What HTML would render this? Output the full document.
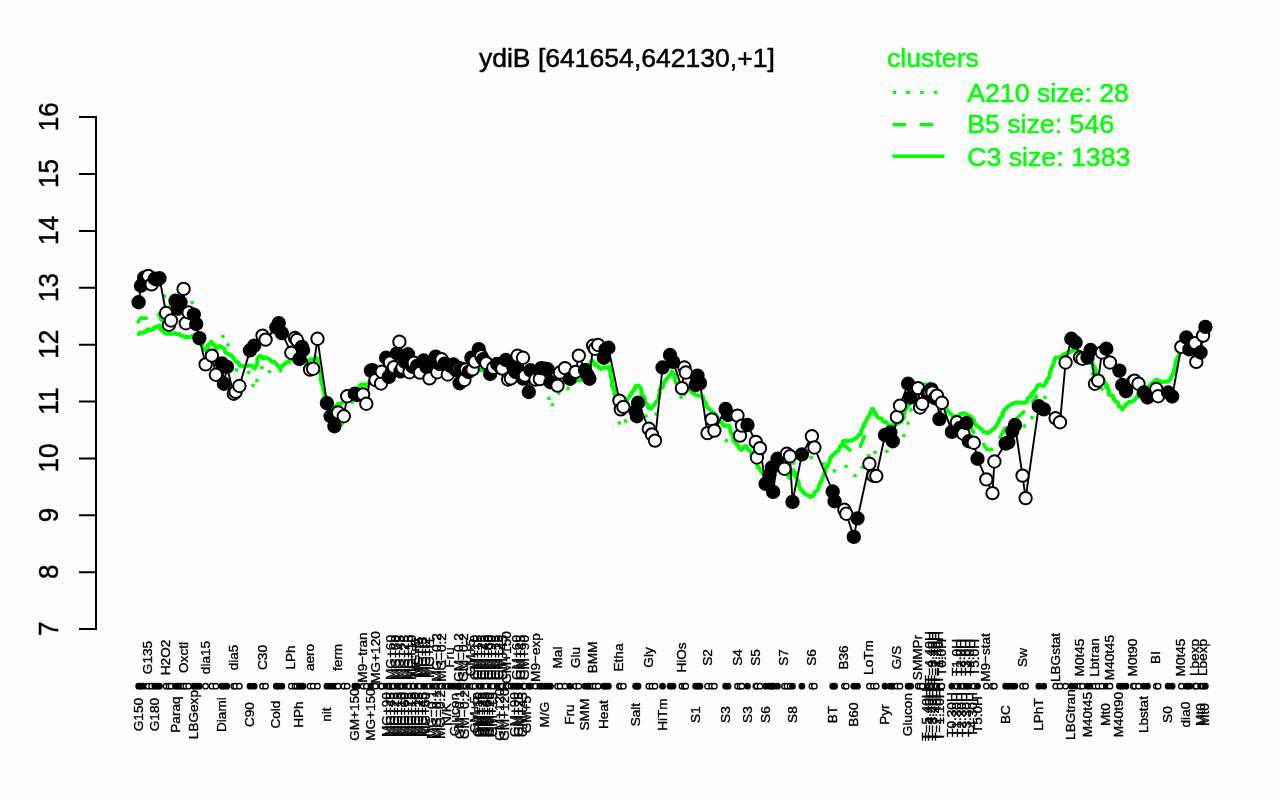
<!DOCTYPE html>
<html><head><meta charset="utf-8"><title>ydiB</title>
<style>html,body{margin:0;padding:0;background:#fdfdfd;}body{width:1280px;height:800px;overflow:hidden;font-family:"Liberation Sans",sans-serif;}</style></head>
<body>
<svg width="1280" height="800" viewBox="0 0 1280 800" style="display:block;will-change:transform;font-family:'Liberation Sans',sans-serif">
<rect width="1280" height="800" fill="#fdfdfd"/>
<text x="626.9" y="66.6" font-size="26.55" text-anchor="middle" fill="#000" stroke="#000" stroke-width="0.5">ydiB [641654,642130,+1]</text>
<g fill="#00ff00" font-size="26.7" stroke="#00ff00" stroke-width="0.5">
<text x="887" y="66.7">clusters</text>
<text x="967.2" y="101.6">A210 size: 28</text>
<text x="967.2" y="133.4">B5 size: 546</text>
<text x="967.2" y="166">C3 size: 1383</text>
</g>
<g stroke="#00ff00" stroke-width="3.4" fill="none">
<path d="M892.8 92.4H938" stroke-dasharray="3.4 10.3" stroke-width="3.3"/>
<path d="M892.5 124.6H940" stroke-dasharray="13.6 13.6"/>
<path d="M892.5 156.3H944.6"/>
</g>
<path d="M96 116.1V630.1M79 117.1H97M79 174H97M79 230.9H97M79 287.8H97M79 344.7H97M79 401.5H97M79 458.4H97M79 515.3H97M79 572.2H97M79 629.1H97" stroke="#000" stroke-width="2" fill="none"/>
<g font-size="26.6" text-anchor="middle" fill="#000" stroke="#000" stroke-width="0.45">
<text transform="translate(58.4 116.7) rotate(-90) scale(0.98 1.065)">16</text>
<text transform="translate(58.4 173.6) rotate(-90) scale(0.98 1.065)">15</text>
<text transform="translate(58.4 230.5) rotate(-90) scale(0.98 1.065)">14</text>
<text transform="translate(58.4 287.4) rotate(-90) scale(0.98 1.065)">13</text>
<text transform="translate(58.4 344.3) rotate(-90) scale(0.98 1.065)">12</text>
<text transform="translate(58.4 401.1) rotate(-90) scale(0.98 1.065)">11</text>
<text transform="translate(58.4 458) rotate(-90) scale(0.98 1.065)">10</text>
<text transform="translate(58.4 514.9) rotate(-90) scale(0.98 1.065)">9</text>
<text transform="translate(58.4 571.8) rotate(-90) scale(0.98 1.065)">8</text>
<text transform="translate(58.4 628.7) rotate(-90) scale(0.98 1.065)">7</text>
</g>
<g stroke="#00ff00" fill="none" stroke-linejoin="round" stroke-linecap="round">
<polyline stroke-width="4.1" points="138.9,333.9 140.3,332.8 143,332.5 145.5,331.6 147.5,329.2 150.4,330 152.9,329.5 154.4,327.3 157.9,326.8 159.6,325.4 160.6,329.6 162.3,330.4 164.3,332.5 166.5,333.8 169.1,333.1 171.1,334 174.6,333.1 176.9,334.1 179.5,334.1 181.2,335.7 185.2,337.2 187,337 189.4,337.2 193.1,335.6 194.3,336.9 195.9,338.6 198.3,341.1 199,343 202,344.9 202.8,347.5 204.1,349.1 206.4,351.3 206.2,351.1 208,347.2 207.7,345.3 209.6,344.2 211,341.7 213.5,344.4 215,345.6 216.4,348.6 219.4,346 221.6,347.1 224,348.5 225.4,352.3 226.8,353.1 228.7,354.4 231.5,355.5 234,358.7 234.9,360.4 236.2,361.8 239,363.1 240,365.4 242.5,366.3 245.2,366.2 247.6,365.8 250.1,365.6 251.7,365.8 254.8,368.6 255.7,366.1 257.1,364.4 257.3,362.3 257.5,359 259.2,356.3 261.1,356 262,357.4 263.6,358.5 265.5,357.3 268,358.5 270.4,359.6 271.9,361.8 275,362.2 276.1,364 278.1,366 280.6,368.7 282.7,365.6 284,364.8 286.3,362.6 288.5,362 290.4,359.3 292,359.5 295.3,357.6 297.7,357.1 299.7,359.1 301.2,361 303.7,360.4 305.7,362.7 308.1,361.2 311.1,359.3 313.5,359.3 315.4,357.2 316.9,358.3 317.5,359.4 317.7,361.8 318.2,365.9 318.4,369.1 319.2,370.5 320.8,373.3 320.7,374.8 320.7,376.7 321.2,380.1 321.6,383.9 322.7,383.9 323.2,387.5 323,389 324.4,393 324.5,396.1 326.4,396.9 326.8,399.9 328.7,403.6 329.3,404.6 330.9,405.8 332.7,407.8 335.1,405.7 337,406.3 338.3,403.7 341.1,403.5 343.4,402.3 345.6,400.1 347.9,399.2 351.3,399.2 352.4,397.3 353.7,395.2 355.9,391.7 357.2,391.5 358.6,388 360.5,384.9 362.2,384.4 364.7,384.7 367.5,385.5 369.1,382 370.6,379.4 372.8,380.5 374.8,377.5 377.3,375.7 378.9,373.6 380.6,372.1 383.5,372.4 384.9,369.4 386.6,367.6 389.7,366 391.4,366.2 394.2,363.2 395.9,362.8 397.9,361.2 400.1,360.5 402.9,360.6 405.4,362.7 407.6,364.4 410.2,364 412.2,363.9 415.5,364.1 417.2,365.7 420.5,365.9 423.4,366.5 426.1,367.1 429,366.5 430,368.4 433.6,367.5 436.4,366.8 438.8,366.5 440.4,367.2 443.2,367.9 446.1,368.5 446.8,371.4 450,371.5 452.6,372.5 454.1,373 457,375.3 458.7,374.3 461.3,374 463.8,374 466.8,373 469.2,373 472.2,371.9 473.9,370.9 476.8,370.5 479.8,369.8 482.2,370.2 483.9,369.2 487.3,368.3 489.4,368.7 492.3,367.6 494.8,366.7 497.8,365.4 499.8,366.4 501.5,366.6 504.3,367 507.8,367.2 509.9,367.4 513.1,367.7 515.3,367.9 517.4,367.5 520.9,367.4 522.4,368.2 524.2,369.9 528.4,370.9 528.9,371.3 532.6,373.1 535.2,373.8 537.4,374.5 539.1,374.4 542.8,375 544.2,374.9 546.8,377 549.7,375.5 552.8,377.5 555,378.3 557.8,379.8 559.7,379.9 562.4,379.9 564.5,379.5 567.5,380.1 570.5,380.7 572.7,380.6 575.6,380.5 577.8,380.1 580.4,380.4 582.1,379.4 583.2,375.5 584.8,374.1 585.8,373 587.7,369.9 588.1,366.8 589.3,365.4 590.4,362.2 592.5,360.7 594.2,362.6 595,365.1 596.7,364.5 599,367.7 601.2,368.9 603.6,367.3 606.7,367.8 608,366.8 609,366.3 609.9,369.6 610.5,371.7 610.4,372.9 610.8,377.1 611.8,379.3 612.1,382.6 611.9,386.1 613.8,387.5 613.8,389.3 614.7,392.5 614.4,394.8 617.2,397.4 618.2,397.3 620.3,399.1 622.3,398.5 625.5,400.5 627.8,399.4 629.2,396.8 630.9,394.5 632.2,392.5 634,390 634.8,388.3 636,386 637.8,385.3 639.2,386.4 640.5,387.9 641.4,390.5 641.3,394.2 643.3,396 644.8,398.3 645.2,401 646,404 647.4,404.3 648.1,407 649.7,408.6 651.1,408.5 653.5,405.9 654.8,403.7 656,401.7 658,400.7 658.9,397.6 658.9,394.8 659.7,393.6 659.6,389.4 662.1,386.9 662.8,387.6 663.5,383.2 665,380.8 667.1,378.5 668.9,376.7 669.9,375.2 671.6,373 672.1,371.4 672.8,373.3 674.5,374.9 675,378.7 675.5,382.1 677.5,383.8 678.7,384.2 681.2,386.3 684.1,386.7 686.7,388.2 688.1,388.7 691,390.8 692.1,392.7 694.6,394 696.7,395.4 698.6,395.7 701.5,395.8 702.9,396.9 703.4,399 704.6,401.4 706.3,403.5 706.7,406.3 708.4,408.4 710.6,410.1 712.2,411.9 715.2,413.7 716.4,415.5 717.5,417.1 719.2,421 722.2,422.7 722,423.4 723.4,425.6 726.4,425.5 729.2,425.7 730.2,428.5 730.5,430.8 731.2,433.3 732.8,435.8 733.3,438.3 733.4,440.5 735.5,442.7 736.8,444.4 737.9,445.3 739.4,448.6 741.7,450 743.6,447.1 745.6,445.9 748.1,449 749,450.3 751.3,451.9 751.7,455.8 753.6,457.3 754.8,459.7 756.9,461 756.9,464.1 758,466.3 759.8,468.8 761,471.2 762.7,473.3 764.7,474.7 766.7,476.9 768.9,476.9 769,475.9 771.6,473.6 772.5,470.5 772.9,468 773.4,466.4 775.9,463.4 777.4,462.4 778.3,463.8 781.3,464.6 782.9,467.3 784.2,470.2 786.2,472.4 787.7,474.6 788.3,476 789.9,478.1 790.3,476.5 791,474.7 792.1,473.6 793,470.3 793.3,470.6 793.4,472.8 795.6,473.1 795.4,476.6 797.1,478.9 798.7,482.6 798.8,485.3 799.1,486 800.2,488.8 802.8,491.4 803.7,492.8 805.6,494.6 808.3,495.2 810.4,497 812.6,495.9 813.8,495.3 814.4,492.4 816.6,490.8 818.4,489.1 819.3,485 820.6,482.5 821.4,481 822.6,477.6 823.9,475.4 824.2,473.5 825.4,471.2 825.7,467.8 827.7,466 828.2,464.2 829.2,462.4 830.6,457.4 831.3,457.4 832.3,455.4 835.2,453.3 836.2,451.7 838.3,450.9 839.5,448 840,446.2 842.6,444.4 843,441.3 845.6,440.7 847.7,441 850.8,440.5 853.3,440 854.6,438.8 856.9,437.6 858.8,435 860.5,434.7 861.2,431.1 862.4,428.7 864.2,425.3 864,424.4 866.2,421 867.1,418.9 869,415.9 869.7,414.2 870.8,412.4 872.3,408.9 873,409.2 874.7,412.2 875.5,413.7 876.8,416 878.8,417.7 881.7,418.7 883.5,421.7 885.9,421.9 888.1,424.6 889.7,426.2 892.6,425 894.9,425 897.3,423.7 899.4,422.3 901.4,421.5 902.7,419.1 904.2,417.4 903.6,415.1 905.1,411.1 905.5,409.1 907,407.4 908.3,405.8 910.1,400.9 909.8,401.6 912.3,398.4 913.6,397.5 915.7,394.1 917.4,392.1 919.5,391.2 922.1,390.4 924.7,387.9 924.6,384.4 927.7,385.1 929.8,383.7 931.3,386.2 932.7,388.1 933.9,389.6 935.7,392.1 938,394.3 939.8,396.7 940.8,399.2 941.8,401.2 943.6,402.6 944.8,405.7 946.5,408.8 947.8,411 949.2,412.3 951.3,414.6 952.6,416.2 956.1,416.3 958.8,416.3 960.3,414.1 963.4,413.3 965.3,413.8 968,415.2 969.6,417.2 970.7,416.4 972.9,420 973.8,419.7 975.4,424.8 977.3,426 979.5,427.7 981.4,429.2 983.7,431.9 985.3,432.3 988.1,433 990.5,431.4 992.1,429.9 993.9,428.7 996.3,426.3 997.7,423.1 998.4,422.2 999.1,419.9 1001,417 1002.8,415.3 1002.5,413.2 1004.8,409.3 1006.2,408.3 1008,406.5 1010.7,404.6 1012,404 1015.3,402.7 1018.3,402.6 1020.4,402.7 1022.5,402.8 1024.7,402.7 1026.5,402.2 1027.8,398 1031,396.5 1031.7,393.4 1032.9,392.6 1034.4,391 1036,389 1037.9,385.5 1039.6,384.8 1043.5,385.9 1044.8,384.6 1045.7,382.9 1047.2,379.1 1048.7,378.4 1049.6,375.7 1049.7,372.9 1051,369.5 1051.9,367.6 1053,365.4 1053.8,363.1 1054.2,360.4 1055.1,357.9 1058.2,357.5 1060.1,357.6 1063.7,354.3 1065.6,353.8 1067.4,352.6 1070.1,352.2 1072.4,350.3 1075,351 1077.8,350.7 1078.9,351.7 1081,352.7 1084.3,354.6 1085.9,356.3 1087.8,358.4 1089.6,359.6 1090.9,362.7 1092.6,363.3 1093,367.7 1094.6,366.8 1095.4,371 1096.7,372.6 1099.2,376.1 1100.9,376.3 1101.5,380.8 1103.6,380.2 1106,384.8 1107.4,385.9 1107.6,388 1108.7,390.8 1109,394.5 1112.1,395.8 1112.7,395.6 1114.4,400.2 1115.9,401.6 1117.5,402.3 1118.9,406.2 1120.1,406.8 1122.6,409.4 1123.8,407.6 1125.9,404.8 1126.7,404 1129.1,401.7 1132.1,401.6 1134.7,400 1135.8,398.4 1136.6,397.6 1138.5,394.4 1140.5,392 1143.8,391.3 1145.5,389.4 1147.5,388.1 1148.9,386.4 1150.4,384.5 1153,382.7 1155.1,380.5 1156.6,379.6 1158.4,380.8 1160.8,381.2 1162.4,382.1 1165.5,381.4 1167.3,381.6 1169.6,380.7 1171.3,377 1172.3,375.2 1174,371.6 1174.1,369.6 1175,367.9 1175.2,365.9 1175.5,363.6 1176.3,360.1 1178.1,356.9 1178.3,355.8 1180.3,352.9 1181.9,351.3 1182.7,349 1185.2,347.4 1186.3,345.6 1189,346.9 1190.7,347.1 1193.6,348.2 1195,345.9 1198.1,345.2 1199.5,344.7 1201.5,341.8 1203.6,338.8"/>
<polyline stroke-width="3.6" points="138.1,321.9 140.6,318.1 146.3,318.1"/>
<polyline stroke-width="3.6" points="158.8,313.8 161.3,320"/>
<polyline stroke-width="3.6" points="843.8,445 850,450"/>
<polyline stroke-width="3.6" points="860.3,446.3 864.6,436.3"/>
<polyline stroke-width="3.6" points="971.3,428.8 973.8,432.5"/>
<polyline stroke-width="3.6" points="983.8,444.4 986.9,449.4 991.9,449.4"/>
<polyline stroke-width="3.6" points="1000,437.5 1005,428.1"/>
<polyline stroke-width="3.6" points="1017.5,417.5 1023.8,411.9"/>
<polyline stroke-width="3.6" points="1032.6,402 1036.6,396.4"/>
</g>
<g fill="#00ff00">
<circle cx="164.6" cy="296.1" r="1.9"/>
<circle cx="170.3" cy="306.4" r="1.9"/>
<circle cx="181.8" cy="296" r="1.9"/>
<circle cx="192.2" cy="302.6" r="1.9"/>
<circle cx="222.9" cy="336.3" r="1.9"/>
<circle cx="227.9" cy="345" r="1.9"/>
<circle cx="236.3" cy="370" r="1.9"/>
<circle cx="248.8" cy="372.5" r="1.9"/>
<circle cx="261.9" cy="367.5" r="1.9"/>
<circle cx="269.4" cy="371.6" r="1.9"/>
<circle cx="256.9" cy="380.4" r="1.9"/>
<circle cx="252.9" cy="385.3" r="1.9"/>
<circle cx="280.6" cy="370.6" r="1.9"/>
<circle cx="568" cy="388.5" r="1.9"/>
<circle cx="558.8" cy="393" r="1.9"/>
<circle cx="549" cy="398.4" r="1.9"/>
<circle cx="552.5" cy="404.6" r="1.9"/>
<circle cx="619.4" cy="423" r="1.9"/>
<circle cx="625.6" cy="421" r="1.9"/>
<circle cx="646" cy="416" r="1.9"/>
<circle cx="656" cy="414" r="1.9"/>
<circle cx="681" cy="397" r="1.9"/>
<circle cx="684.5" cy="394.5" r="1.9"/>
<circle cx="726.3" cy="440.6" r="1.9"/>
<circle cx="768.1" cy="465" r="1.9"/>
<circle cx="757.5" cy="466.9" r="1.9"/>
<circle cx="811.3" cy="457.5" r="1.9"/>
<circle cx="793.8" cy="463" r="1.9"/>
<circle cx="823.5" cy="463.8" r="1.9"/>
<circle cx="834.4" cy="471" r="1.9"/>
<circle cx="846" cy="466.3" r="1.9"/>
<circle cx="855" cy="475.6" r="1.9"/>
<circle cx="862.3" cy="467.3" r="1.9"/>
<circle cx="868.8" cy="455.6" r="1.9"/>
<circle cx="875" cy="452.3" r="1.9"/>
<circle cx="886.9" cy="451.3" r="1.9"/>
<circle cx="911" cy="410" r="1.9"/>
<circle cx="908.1" cy="423.1" r="1.9"/>
<circle cx="903.8" cy="435.6" r="1.9"/>
<circle cx="1031.9" cy="417.5" r="1.9"/>
<circle cx="1024.4" cy="426" r="1.9"/>
<circle cx="1045" cy="397.3" r="1.9"/>
<circle cx="1036" cy="396" r="1.9"/>
<circle cx="352.5" cy="402" r="1.9"/>
<circle cx="342" cy="424" r="1.9"/>
<circle cx="1092.5" cy="373.8" r="1.9"/>
<circle cx="1105.6" cy="386.9" r="1.9"/>
<circle cx="1102" cy="388.8" r="1.9"/>
</g>
<polyline fill="none" stroke="#000" stroke-width="1.9" stroke-linejoin="round" points="138.6,302.2 141,285.8 144,277.8 148.3,275.9 151.6,284.4 154.8,278.8 157.2,279.6 159.5,278.3 166.1,313 168.9,324.7 171,320.5 175.5,300.8 177.8,308.8 180.6,302.2 183.6,288.9 185.8,323.3 188.6,312.5 193.8,314.6 196.2,324 199.4,338.1 205.6,364.4 211.9,355.6 215.9,374.7 221.9,363.4 223.9,383.8 226.9,366.9 233.8,393.8 235.6,391.9 239.4,386 250,350.4 254.2,345.6 262.5,335.6 265.6,339.6 276.3,327.5 278.8,323.1 281.9,333.1 291.3,352.8 295,338 296.9,340 299.4,359 301.9,346.9 303.1,350 310,369.6 313.1,368.8 317.5,338.8 326.9,403.1 330.6,416.3 334.4,426.3 338.1,412.5 343.8,416.3 347.2,396.3 354.8,393.8 357.3,395 363.1,394.4 366.3,403.8 370.9,370.6 372.6,370.2 375.5,380 381,383.5 381.8,371.8 386.1,357.7 388.8,376.9 390,362.4 392,371 393.9,367.1 397,353.4 399.4,341.7 400.5,371.4 402.5,367.5 405,362 408,354.2 409.5,372.2 412.7,366.7 413.8,362.8 417,366 420,372.6 423.6,360.5 426.5,367 429.5,378.4 432.5,362 435.7,356.6 437.3,372.2 439.5,364 441.6,359.3 444.7,363.6 447.8,374.5 450.5,366 453.3,364.4 455.8,370 458.8,368.3 459.6,383.2 461,368.6 464.4,380 466,369.4 468.5,372 471.4,357.7 472.6,369.4 474.9,361.6 478.8,349.1 481.2,356.1 483.1,359.2 486.3,363.1 490.2,374 493.3,367.8 497.2,363.9 499.8,366.5 502.3,368.6 505.8,360 508.1,379.5 510.9,378.4 513,366 515.5,372 517.5,355.7 518.5,371 523,357.7 523.2,378.6 524.9,375.6 528.8,392 530.4,370.2 535.5,379.5 539.8,379.1 541.3,368.1 544.8,368.6 547.6,369.2 550.5,382.2 557.5,385.6 560,372.5 565,368.1 570,378.8 575.6,371.9 578.8,355.6 585,370 587.5,375 589.4,378.8 593.1,345.6 595,348.8 598.1,345 603.8,357.8 605.6,349.4 608.4,347.8 619.4,400.6 620.8,409.4 623.4,406.9 635.6,411.3 636.9,416.3 638.1,402.8 648.8,428.8 651.9,434.4 655,440.6 662.5,367.5 670,355 673.1,361.9 681.9,388.1 684.4,367.5 685.8,372.5 695.6,385 697.5,375.6 700,383.1 707.5,433.1 711.7,419.4 714.4,430.6 725.6,409 728.1,415 737.5,415.6 740,435.6 741.9,425.6 747.5,425 755.8,441.9 756.9,457.5 760,448.1 765.6,483.8 769.4,475 771.9,467.5 773.1,491.9 777.5,458.8 784.4,468.8 786.9,453.8 790,456.3 792.5,501.9 801.9,454.4 811.9,436.3 814.4,447.5 832.7,491.5 834.6,501.3 844.4,509.7 846.3,513.8 853.8,536.9 857.5,518.4 869.4,463.8 873.4,475.8 876.3,476 885,435 890.4,432.5 892.8,441.3 896.9,416.9 900,405.6 908.1,383.8 910.6,397.5 918.1,388.1 920,407.5 922.3,403.8 927.5,393 929.5,391.5 931.3,389.4 932.5,392.5 934.8,398 936.9,395.6 939.4,419.1 941.9,402.8 951.9,431.9 956.9,422.2 960,428 963.4,433.8 966.3,423.1 968.8,441.3 973.8,442.8 977.5,458.8 986.3,479.4 992.5,493.1 994.4,461.5 1005.6,443.6 1008.3,442.4 1012.3,431 1015,425 1022.5,475.6 1025.6,498.1 1038.8,406.3 1043.8,409.4 1055.6,418.1 1060,422.3 1065.6,362.5 1071.3,338.8 1075.6,342.5 1080,357.5 1082.5,358.8 1087.5,357.5 1090.6,350 1095,383.8 1098.1,380.6 1101.9,352.5 1106.3,348.8 1110,362.5 1119.4,370.6 1122.2,385 1126,391.3 1133.2,381.5 1134.6,380.6 1138.5,383.8 1143.8,392.5 1147.5,397.5 1156.3,389 1158.1,396.3 1168.1,392.5 1172.2,396.5 1181.3,346.9 1186.3,337.5 1189.4,349.4 1195,343.1 1196.3,361.9 1200.6,352.5 1203.1,335.6 1205.4,326.9"/>
<g stroke="#000" stroke-width="1.95">
<circle cx="138.6" cy="302.2" r="6.2" fill="#000"/>
<circle cx="141" cy="285.8" r="6.2" fill="#000"/>
<circle cx="144" cy="277.8" r="6.2" fill="#000"/>
<circle cx="148.3" cy="275.9" r="6.2" fill="#fff"/>
<circle cx="151.6" cy="284.4" r="6.2" fill="#fff"/>
<circle cx="154.8" cy="278.8" r="6.2" fill="#000"/>
<circle cx="157.2" cy="279.6" r="6.2" fill="#000"/>
<circle cx="159.5" cy="278.3" r="6.2" fill="#000"/>
<circle cx="166.1" cy="313" r="6.2" fill="#fff"/>
<circle cx="168.9" cy="324.7" r="6.2" fill="#fff"/>
<circle cx="171" cy="320.5" r="6.2" fill="#fff"/>
<circle cx="175.5" cy="300.8" r="6.2" fill="#000"/>
<circle cx="177.8" cy="308.8" r="6.2" fill="#000"/>
<circle cx="180.6" cy="302.2" r="6.2" fill="#000"/>
<circle cx="183.6" cy="288.9" r="6.2" fill="#fff"/>
<circle cx="185.8" cy="323.3" r="6.2" fill="#fff"/>
<circle cx="188.6" cy="312.5" r="6.2" fill="#fff"/>
<circle cx="193.8" cy="314.6" r="6.2" fill="#000"/>
<circle cx="196.2" cy="324" r="6.2" fill="#000"/>
<circle cx="199.4" cy="338.1" r="6.2" fill="#000"/>
<circle cx="205.6" cy="364.4" r="6.2" fill="#fff"/>
<circle cx="211.9" cy="355.6" r="6.2" fill="#fff"/>
<circle cx="215.9" cy="374.7" r="6.2" fill="#fff"/>
<circle cx="221.9" cy="363.4" r="6.2" fill="#000"/>
<circle cx="223.9" cy="383.8" r="6.2" fill="#000"/>
<circle cx="226.9" cy="366.9" r="6.2" fill="#000"/>
<circle cx="233.8" cy="393.8" r="6.2" fill="#fff"/>
<circle cx="235.6" cy="391.9" r="6.2" fill="#fff"/>
<circle cx="239.4" cy="386" r="6.2" fill="#fff"/>
<circle cx="250" cy="350.4" r="6.2" fill="#000"/>
<circle cx="254.2" cy="345.6" r="6.2" fill="#000"/>
<circle cx="262.5" cy="335.6" r="6.2" fill="#fff"/>
<circle cx="265.6" cy="339.6" r="6.2" fill="#fff"/>
<circle cx="276.3" cy="327.5" r="6.2" fill="#000"/>
<circle cx="278.8" cy="323.1" r="6.2" fill="#000"/>
<circle cx="281.9" cy="333.1" r="6.2" fill="#000"/>
<circle cx="291.3" cy="352.8" r="6.2" fill="#fff"/>
<circle cx="295" cy="338" r="6.2" fill="#fff"/>
<circle cx="296.9" cy="340" r="6.2" fill="#fff"/>
<circle cx="299.4" cy="359" r="6.2" fill="#000"/>
<circle cx="301.9" cy="346.9" r="6.2" fill="#000"/>
<circle cx="303.1" cy="350" r="6.2" fill="#000"/>
<circle cx="310" cy="369.6" r="6.2" fill="#fff"/>
<circle cx="313.1" cy="368.8" r="6.2" fill="#fff"/>
<circle cx="317.5" cy="338.8" r="6.2" fill="#fff"/>
<circle cx="326.9" cy="403.1" r="6.2" fill="#000"/>
<circle cx="330.6" cy="416.3" r="6.2" fill="#000"/>
<circle cx="334.4" cy="426.3" r="6.2" fill="#000"/>
<circle cx="338.1" cy="412.5" r="6.2" fill="#fff"/>
<circle cx="343.8" cy="416.3" r="6.2" fill="#fff"/>
<circle cx="347.2" cy="396.3" r="6.2" fill="#fff"/>
<circle cx="354.8" cy="393.8" r="6.2" fill="#000"/>
<circle cx="357.3" cy="395" r="6.2" fill="#000"/>
<circle cx="363.1" cy="394.4" r="6.2" fill="#fff"/>
<circle cx="366.3" cy="403.8" r="6.2" fill="#fff"/>
<circle cx="370.9" cy="370.6" r="6.2" fill="#000"/>
<circle cx="372.6" cy="370.2" r="6.2" fill="#000"/>
<circle cx="375.5" cy="380" r="6.2" fill="#fff"/>
<circle cx="381" cy="383.5" r="6.2" fill="#fff"/>
<circle cx="381.8" cy="371.8" r="6.2" fill="#fff"/>
<circle cx="386.1" cy="357.7" r="6.2" fill="#000"/>
<circle cx="388.8" cy="376.9" r="6.2" fill="#000"/>
<circle cx="390" cy="362.4" r="6.2" fill="#fff"/>
<circle cx="392" cy="371" r="6.2" fill="#000"/>
<circle cx="393.9" cy="367.1" r="6.2" fill="#fff"/>
<circle cx="397" cy="353.4" r="6.2" fill="#000"/>
<circle cx="399.4" cy="341.7" r="6.2" fill="#fff"/>
<circle cx="400.5" cy="371.4" r="6.2" fill="#000"/>
<circle cx="402.5" cy="367.5" r="6.2" fill="#fff"/>
<circle cx="405" cy="362" r="6.2" fill="#000"/>
<circle cx="408" cy="354.2" r="6.2" fill="#000"/>
<circle cx="409.5" cy="372.2" r="6.2" fill="#fff"/>
<circle cx="412.7" cy="366.7" r="6.2" fill="#000"/>
<circle cx="413.8" cy="362.8" r="6.2" fill="#fff"/>
<circle cx="417" cy="366" r="6.2" fill="#000"/>
<circle cx="420" cy="372.6" r="6.2" fill="#fff"/>
<circle cx="423.6" cy="360.5" r="6.2" fill="#000"/>
<circle cx="426.5" cy="367" r="6.2" fill="#000"/>
<circle cx="429.5" cy="378.4" r="6.2" fill="#fff"/>
<circle cx="432.5" cy="362" r="6.2" fill="#000"/>
<circle cx="435.7" cy="356.6" r="6.2" fill="#000"/>
<circle cx="437.3" cy="372.2" r="6.2" fill="#fff"/>
<circle cx="439.5" cy="364" r="6.2" fill="#000"/>
<circle cx="441.6" cy="359.3" r="6.2" fill="#fff"/>
<circle cx="444.7" cy="363.6" r="6.2" fill="#000"/>
<circle cx="447.8" cy="374.5" r="6.2" fill="#fff"/>
<circle cx="450.5" cy="366" r="6.2" fill="#000"/>
<circle cx="453.3" cy="364.4" r="6.2" fill="#000"/>
<circle cx="455.8" cy="370" r="6.2" fill="#000"/>
<circle cx="458.8" cy="368.3" r="6.2" fill="#fff"/>
<circle cx="459.6" cy="383.2" r="6.2" fill="#000"/>
<circle cx="461" cy="368.6" r="6.2" fill="#000"/>
<circle cx="464.4" cy="380" r="6.2" fill="#fff"/>
<circle cx="466" cy="369.4" r="6.2" fill="#fff"/>
<circle cx="468.5" cy="372" r="6.2" fill="#000"/>
<circle cx="471.4" cy="357.7" r="6.2" fill="#000"/>
<circle cx="472.6" cy="369.4" r="6.2" fill="#fff"/>
<circle cx="474.9" cy="361.6" r="6.2" fill="#fff"/>
<circle cx="478.8" cy="349.1" r="6.2" fill="#000"/>
<circle cx="481.2" cy="356.1" r="6.2" fill="#fff"/>
<circle cx="483.1" cy="359.2" r="6.2" fill="#000"/>
<circle cx="486.3" cy="363.1" r="6.2" fill="#fff"/>
<circle cx="490.2" cy="374" r="6.2" fill="#000"/>
<circle cx="493.3" cy="367.8" r="6.2" fill="#fff"/>
<circle cx="497.2" cy="363.9" r="6.2" fill="#000"/>
<circle cx="499.8" cy="366.5" r="6.2" fill="#000"/>
<circle cx="502.3" cy="368.6" r="6.2" fill="#fff"/>
<circle cx="505.8" cy="360" r="6.2" fill="#000"/>
<circle cx="508.1" cy="379.5" r="6.2" fill="#fff"/>
<circle cx="510.9" cy="378.4" r="6.2" fill="#fff"/>
<circle cx="513" cy="366" r="6.2" fill="#000"/>
<circle cx="515.5" cy="372" r="6.2" fill="#000"/>
<circle cx="517.5" cy="355.7" r="6.2" fill="#fff"/>
<circle cx="518.5" cy="371" r="6.2" fill="#000"/>
<circle cx="523" cy="357.7" r="6.2" fill="#fff"/>
<circle cx="523.2" cy="378.6" r="6.2" fill="#000"/>
<circle cx="524.9" cy="375.6" r="6.2" fill="#fff"/>
<circle cx="528.8" cy="392" r="6.2" fill="#000"/>
<circle cx="530.4" cy="370.2" r="6.2" fill="#000"/>
<circle cx="535.5" cy="379.5" r="6.2" fill="#fff"/>
<circle cx="539.8" cy="379.1" r="6.2" fill="#fff"/>
<circle cx="541.3" cy="368.1" r="6.2" fill="#000"/>
<circle cx="544.8" cy="368.6" r="6.2" fill="#000"/>
<circle cx="547.6" cy="369.2" r="6.2" fill="#000"/>
<circle cx="550.5" cy="382.2" r="6.2" fill="#000"/>
<circle cx="557.5" cy="385.6" r="6.2" fill="#fff"/>
<circle cx="560" cy="372.5" r="6.2" fill="#fff"/>
<circle cx="565" cy="368.1" r="6.2" fill="#fff"/>
<circle cx="570" cy="378.8" r="6.2" fill="#000"/>
<circle cx="575.6" cy="371.9" r="6.2" fill="#fff"/>
<circle cx="578.8" cy="355.6" r="6.2" fill="#fff"/>
<circle cx="585" cy="370" r="6.2" fill="#000"/>
<circle cx="587.5" cy="375" r="6.2" fill="#000"/>
<circle cx="589.4" cy="378.8" r="6.2" fill="#000"/>
<circle cx="593.1" cy="345.6" r="6.2" fill="#fff"/>
<circle cx="595" cy="348.8" r="6.2" fill="#fff"/>
<circle cx="598.1" cy="345" r="6.2" fill="#fff"/>
<circle cx="603.8" cy="357.8" r="6.2" fill="#000"/>
<circle cx="605.6" cy="349.4" r="6.2" fill="#000"/>
<circle cx="608.4" cy="347.8" r="6.2" fill="#000"/>
<circle cx="619.4" cy="400.6" r="6.2" fill="#fff"/>
<circle cx="620.8" cy="409.4" r="6.2" fill="#fff"/>
<circle cx="623.4" cy="406.9" r="6.2" fill="#fff"/>
<circle cx="635.6" cy="411.3" r="6.2" fill="#000"/>
<circle cx="636.9" cy="416.3" r="6.2" fill="#000"/>
<circle cx="638.1" cy="402.8" r="6.2" fill="#000"/>
<circle cx="648.8" cy="428.8" r="6.2" fill="#fff"/>
<circle cx="651.9" cy="434.4" r="6.2" fill="#fff"/>
<circle cx="655" cy="440.6" r="6.2" fill="#fff"/>
<circle cx="662.5" cy="367.5" r="6.2" fill="#000"/>
<circle cx="670" cy="355" r="6.2" fill="#000"/>
<circle cx="673.1" cy="361.9" r="6.2" fill="#000"/>
<circle cx="681.9" cy="388.1" r="6.2" fill="#fff"/>
<circle cx="684.4" cy="367.5" r="6.2" fill="#fff"/>
<circle cx="685.8" cy="372.5" r="6.2" fill="#fff"/>
<circle cx="695.6" cy="385" r="6.2" fill="#000"/>
<circle cx="697.5" cy="375.6" r="6.2" fill="#000"/>
<circle cx="700" cy="383.1" r="6.2" fill="#000"/>
<circle cx="707.5" cy="433.1" r="6.2" fill="#fff"/>
<circle cx="711.7" cy="419.4" r="6.2" fill="#fff"/>
<circle cx="714.4" cy="430.6" r="6.2" fill="#fff"/>
<circle cx="725.6" cy="409" r="6.2" fill="#000"/>
<circle cx="728.1" cy="415" r="6.2" fill="#000"/>
<circle cx="737.5" cy="415.6" r="6.2" fill="#fff"/>
<circle cx="740" cy="435.6" r="6.2" fill="#fff"/>
<circle cx="741.9" cy="425.6" r="6.2" fill="#fff"/>
<circle cx="747.5" cy="425" r="6.2" fill="#000"/>
<circle cx="755.8" cy="441.9" r="6.2" fill="#fff"/>
<circle cx="756.9" cy="457.5" r="6.2" fill="#fff"/>
<circle cx="760" cy="448.1" r="6.2" fill="#fff"/>
<circle cx="765.6" cy="483.8" r="6.2" fill="#000"/>
<circle cx="769.4" cy="475" r="6.2" fill="#000"/>
<circle cx="771.9" cy="467.5" r="6.2" fill="#000"/>
<circle cx="773.1" cy="491.9" r="6.2" fill="#000"/>
<circle cx="777.5" cy="458.8" r="6.2" fill="#000"/>
<circle cx="784.4" cy="468.8" r="6.2" fill="#fff"/>
<circle cx="786.9" cy="453.8" r="6.2" fill="#fff"/>
<circle cx="790" cy="456.3" r="6.2" fill="#fff"/>
<circle cx="792.5" cy="501.9" r="6.2" fill="#000"/>
<circle cx="801.9" cy="454.4" r="6.2" fill="#000"/>
<circle cx="811.9" cy="436.3" r="6.2" fill="#fff"/>
<circle cx="814.4" cy="447.5" r="6.2" fill="#fff"/>
<circle cx="832.7" cy="491.5" r="6.2" fill="#000"/>
<circle cx="834.6" cy="501.3" r="6.2" fill="#000"/>
<circle cx="844.4" cy="509.7" r="6.2" fill="#fff"/>
<circle cx="846.3" cy="513.8" r="6.2" fill="#fff"/>
<circle cx="853.8" cy="536.9" r="6.2" fill="#000"/>
<circle cx="857.5" cy="518.4" r="6.2" fill="#000"/>
<circle cx="869.4" cy="463.8" r="6.2" fill="#fff"/>
<circle cx="873.4" cy="475.8" r="6.2" fill="#fff"/>
<circle cx="876.3" cy="476" r="6.2" fill="#fff"/>
<circle cx="885" cy="435" r="6.2" fill="#000"/>
<circle cx="890.4" cy="432.5" r="6.2" fill="#000"/>
<circle cx="892.8" cy="441.3" r="6.2" fill="#000"/>
<circle cx="896.9" cy="416.9" r="6.2" fill="#fff"/>
<circle cx="900" cy="405.6" r="6.2" fill="#fff"/>
<circle cx="908.1" cy="383.8" r="6.2" fill="#000"/>
<circle cx="910.6" cy="397.5" r="6.2" fill="#000"/>
<circle cx="918.1" cy="388.1" r="6.2" fill="#fff"/>
<circle cx="920" cy="407.5" r="6.2" fill="#fff"/>
<circle cx="922.3" cy="403.8" r="6.2" fill="#fff"/>
<circle cx="927.5" cy="393" r="6.2" fill="#000"/>
<circle cx="929.5" cy="391.5" r="6.2" fill="#fff"/>
<circle cx="931.3" cy="389.4" r="6.2" fill="#000"/>
<circle cx="932.5" cy="392.5" r="6.2" fill="#fff"/>
<circle cx="934.8" cy="398" r="6.2" fill="#000"/>
<circle cx="936.9" cy="395.6" r="6.2" fill="#fff"/>
<circle cx="939.4" cy="419.1" r="6.2" fill="#000"/>
<circle cx="941.9" cy="402.8" r="6.2" fill="#fff"/>
<circle cx="951.9" cy="431.9" r="6.2" fill="#000"/>
<circle cx="956.9" cy="422.2" r="6.2" fill="#fff"/>
<circle cx="960" cy="428" r="6.2" fill="#000"/>
<circle cx="963.4" cy="433.8" r="6.2" fill="#fff"/>
<circle cx="966.3" cy="423.1" r="6.2" fill="#000"/>
<circle cx="968.8" cy="441.3" r="6.2" fill="#000"/>
<circle cx="973.8" cy="442.8" r="6.2" fill="#fff"/>
<circle cx="977.5" cy="458.8" r="6.2" fill="#000"/>
<circle cx="986.3" cy="479.4" r="6.2" fill="#fff"/>
<circle cx="992.5" cy="493.1" r="6.2" fill="#fff"/>
<circle cx="994.4" cy="461.5" r="6.2" fill="#fff"/>
<circle cx="1005.6" cy="443.6" r="6.2" fill="#000"/>
<circle cx="1008.3" cy="442.4" r="6.2" fill="#000"/>
<circle cx="1012.3" cy="431" r="6.2" fill="#000"/>
<circle cx="1015" cy="425" r="6.2" fill="#000"/>
<circle cx="1022.5" cy="475.6" r="6.2" fill="#fff"/>
<circle cx="1025.6" cy="498.1" r="6.2" fill="#fff"/>
<circle cx="1038.8" cy="406.3" r="6.2" fill="#000"/>
<circle cx="1043.8" cy="409.4" r="6.2" fill="#000"/>
<circle cx="1055.6" cy="418.1" r="6.2" fill="#fff"/>
<circle cx="1060" cy="422.3" r="6.2" fill="#fff"/>
<circle cx="1065.6" cy="362.5" r="6.2" fill="#fff"/>
<circle cx="1071.3" cy="338.8" r="6.2" fill="#000"/>
<circle cx="1075.6" cy="342.5" r="6.2" fill="#000"/>
<circle cx="1080" cy="357.5" r="6.2" fill="#fff"/>
<circle cx="1082.5" cy="358.8" r="6.2" fill="#fff"/>
<circle cx="1087.5" cy="357.5" r="6.2" fill="#000"/>
<circle cx="1090.6" cy="350" r="6.2" fill="#000"/>
<circle cx="1095" cy="383.8" r="6.2" fill="#fff"/>
<circle cx="1098.1" cy="380.6" r="6.2" fill="#fff"/>
<circle cx="1101.9" cy="352.5" r="6.2" fill="#fff"/>
<circle cx="1106.3" cy="348.8" r="6.2" fill="#000"/>
<circle cx="1110" cy="362.5" r="6.2" fill="#fff"/>
<circle cx="1119.4" cy="370.6" r="6.2" fill="#000"/>
<circle cx="1122.2" cy="385" r="6.2" fill="#000"/>
<circle cx="1126" cy="391.3" r="6.2" fill="#000"/>
<circle cx="1133.2" cy="381.5" r="6.2" fill="#fff"/>
<circle cx="1134.6" cy="380.6" r="6.2" fill="#fff"/>
<circle cx="1138.5" cy="383.8" r="6.2" fill="#fff"/>
<circle cx="1143.8" cy="392.5" r="6.2" fill="#000"/>
<circle cx="1147.5" cy="397.5" r="6.2" fill="#000"/>
<circle cx="1156.3" cy="389" r="6.2" fill="#fff"/>
<circle cx="1158.1" cy="396.3" r="6.2" fill="#fff"/>
<circle cx="1168.1" cy="392.5" r="6.2" fill="#000"/>
<circle cx="1172.2" cy="396.5" r="6.2" fill="#000"/>
<circle cx="1181.3" cy="346.9" r="6.2" fill="#fff"/>
<circle cx="1186.3" cy="337.5" r="6.2" fill="#000"/>
<circle cx="1189.4" cy="349.4" r="6.2" fill="#000"/>
<circle cx="1195" cy="343.1" r="6.2" fill="#fff"/>
<circle cx="1196.3" cy="361.9" r="6.2" fill="#fff"/>
<circle cx="1200.6" cy="352.5" r="6.2" fill="#000"/>
<circle cx="1203.1" cy="335.6" r="6.2" fill="#fff"/>
<circle cx="1205.4" cy="326.9" r="6.2" fill="#000"/>
</g>
<g stroke="#000" stroke-width="1.3">
<circle cx="138.6" cy="686.2" r="2.7" fill="#000"/>
<circle cx="141" cy="686.2" r="2.7" fill="#000"/>
<circle cx="144" cy="686.2" r="2.7" fill="#000"/>
<circle cx="148.3" cy="686.2" r="2.7" fill="#fff"/>
<circle cx="151.6" cy="686.2" r="2.7" fill="#fff"/>
<circle cx="154.8" cy="686.2" r="2.7" fill="#000"/>
<circle cx="157.2" cy="686.2" r="2.7" fill="#000"/>
<circle cx="159.5" cy="686.2" r="2.7" fill="#000"/>
<circle cx="166.1" cy="686.2" r="2.7" fill="#fff"/>
<circle cx="168.9" cy="686.2" r="2.7" fill="#fff"/>
<circle cx="171" cy="686.2" r="2.7" fill="#fff"/>
<circle cx="175.5" cy="686.2" r="2.7" fill="#000"/>
<circle cx="177.8" cy="686.2" r="2.7" fill="#000"/>
<circle cx="180.6" cy="686.2" r="2.7" fill="#000"/>
<circle cx="183.6" cy="686.2" r="2.7" fill="#fff"/>
<circle cx="185.8" cy="686.2" r="2.7" fill="#fff"/>
<circle cx="188.6" cy="686.2" r="2.7" fill="#fff"/>
<circle cx="193.8" cy="686.2" r="2.7" fill="#000"/>
<circle cx="196.2" cy="686.2" r="2.7" fill="#000"/>
<circle cx="199.4" cy="686.2" r="2.7" fill="#000"/>
<circle cx="205.6" cy="686.2" r="2.7" fill="#fff"/>
<circle cx="211.9" cy="686.2" r="2.7" fill="#fff"/>
<circle cx="215.9" cy="686.2" r="2.7" fill="#fff"/>
<circle cx="221.9" cy="686.2" r="2.7" fill="#000"/>
<circle cx="223.9" cy="686.2" r="2.7" fill="#000"/>
<circle cx="226.9" cy="686.2" r="2.7" fill="#000"/>
<circle cx="233.8" cy="686.2" r="2.7" fill="#fff"/>
<circle cx="235.6" cy="686.2" r="2.7" fill="#fff"/>
<circle cx="239.4" cy="686.2" r="2.7" fill="#fff"/>
<circle cx="250" cy="686.2" r="2.7" fill="#000"/>
<circle cx="254.2" cy="686.2" r="2.7" fill="#000"/>
<circle cx="262.5" cy="686.2" r="2.7" fill="#fff"/>
<circle cx="265.6" cy="686.2" r="2.7" fill="#fff"/>
<circle cx="276.3" cy="686.2" r="2.7" fill="#000"/>
<circle cx="278.8" cy="686.2" r="2.7" fill="#000"/>
<circle cx="281.9" cy="686.2" r="2.7" fill="#000"/>
<circle cx="291.3" cy="686.2" r="2.7" fill="#fff"/>
<circle cx="295" cy="686.2" r="2.7" fill="#fff"/>
<circle cx="296.9" cy="686.2" r="2.7" fill="#fff"/>
<circle cx="299.4" cy="686.2" r="2.7" fill="#000"/>
<circle cx="301.9" cy="686.2" r="2.7" fill="#000"/>
<circle cx="303.1" cy="686.2" r="2.7" fill="#000"/>
<circle cx="310" cy="686.2" r="2.7" fill="#fff"/>
<circle cx="313.1" cy="686.2" r="2.7" fill="#fff"/>
<circle cx="317.5" cy="686.2" r="2.7" fill="#fff"/>
<circle cx="326.9" cy="686.2" r="2.7" fill="#000"/>
<circle cx="330.6" cy="686.2" r="2.7" fill="#000"/>
<circle cx="334.4" cy="686.2" r="2.7" fill="#000"/>
<circle cx="338.1" cy="686.2" r="2.7" fill="#fff"/>
<circle cx="343.8" cy="686.2" r="2.7" fill="#fff"/>
<circle cx="347.2" cy="686.2" r="2.7" fill="#fff"/>
<circle cx="354.8" cy="686.2" r="2.7" fill="#000"/>
<circle cx="357.3" cy="686.2" r="2.7" fill="#000"/>
<circle cx="363.1" cy="686.2" r="2.7" fill="#fff"/>
<circle cx="366.3" cy="686.2" r="2.7" fill="#fff"/>
<circle cx="370.9" cy="686.2" r="2.7" fill="#000"/>
<circle cx="372.6" cy="686.2" r="2.7" fill="#000"/>
<circle cx="375.5" cy="686.2" r="2.7" fill="#fff"/>
<circle cx="381" cy="686.2" r="2.7" fill="#fff"/>
<circle cx="381.8" cy="686.2" r="2.7" fill="#fff"/>
<circle cx="386.1" cy="686.2" r="2.7" fill="#000"/>
<circle cx="388.8" cy="686.2" r="2.7" fill="#000"/>
<circle cx="390" cy="686.2" r="2.7" fill="#fff"/>
<circle cx="392" cy="686.2" r="2.7" fill="#000"/>
<circle cx="393.9" cy="686.2" r="2.7" fill="#fff"/>
<circle cx="397" cy="686.2" r="2.7" fill="#000"/>
<circle cx="399.4" cy="686.2" r="2.7" fill="#fff"/>
<circle cx="400.5" cy="686.2" r="2.7" fill="#000"/>
<circle cx="402.5" cy="686.2" r="2.7" fill="#fff"/>
<circle cx="405" cy="686.2" r="2.7" fill="#000"/>
<circle cx="408" cy="686.2" r="2.7" fill="#000"/>
<circle cx="409.5" cy="686.2" r="2.7" fill="#fff"/>
<circle cx="412.7" cy="686.2" r="2.7" fill="#000"/>
<circle cx="413.8" cy="686.2" r="2.7" fill="#fff"/>
<circle cx="417" cy="686.2" r="2.7" fill="#000"/>
<circle cx="420" cy="686.2" r="2.7" fill="#fff"/>
<circle cx="423.6" cy="686.2" r="2.7" fill="#000"/>
<circle cx="426.5" cy="686.2" r="2.7" fill="#000"/>
<circle cx="429.5" cy="686.2" r="2.7" fill="#fff"/>
<circle cx="432.5" cy="686.2" r="2.7" fill="#000"/>
<circle cx="435.7" cy="686.2" r="2.7" fill="#000"/>
<circle cx="437.3" cy="686.2" r="2.7" fill="#fff"/>
<circle cx="439.5" cy="686.2" r="2.7" fill="#000"/>
<circle cx="441.6" cy="686.2" r="2.7" fill="#fff"/>
<circle cx="444.7" cy="686.2" r="2.7" fill="#000"/>
<circle cx="447.8" cy="686.2" r="2.7" fill="#fff"/>
<circle cx="450.5" cy="686.2" r="2.7" fill="#000"/>
<circle cx="453.3" cy="686.2" r="2.7" fill="#000"/>
<circle cx="455.8" cy="686.2" r="2.7" fill="#000"/>
<circle cx="458.8" cy="686.2" r="2.7" fill="#fff"/>
<circle cx="459.6" cy="686.2" r="2.7" fill="#000"/>
<circle cx="461" cy="686.2" r="2.7" fill="#000"/>
<circle cx="464.4" cy="686.2" r="2.7" fill="#fff"/>
<circle cx="466" cy="686.2" r="2.7" fill="#fff"/>
<circle cx="468.5" cy="686.2" r="2.7" fill="#000"/>
<circle cx="471.4" cy="686.2" r="2.7" fill="#000"/>
<circle cx="472.6" cy="686.2" r="2.7" fill="#fff"/>
<circle cx="474.9" cy="686.2" r="2.7" fill="#fff"/>
<circle cx="478.8" cy="686.2" r="2.7" fill="#000"/>
<circle cx="481.2" cy="686.2" r="2.7" fill="#fff"/>
<circle cx="483.1" cy="686.2" r="2.7" fill="#000"/>
<circle cx="486.3" cy="686.2" r="2.7" fill="#fff"/>
<circle cx="490.2" cy="686.2" r="2.7" fill="#000"/>
<circle cx="493.3" cy="686.2" r="2.7" fill="#fff"/>
<circle cx="497.2" cy="686.2" r="2.7" fill="#000"/>
<circle cx="499.8" cy="686.2" r="2.7" fill="#000"/>
<circle cx="502.3" cy="686.2" r="2.7" fill="#fff"/>
<circle cx="505.8" cy="686.2" r="2.7" fill="#000"/>
<circle cx="508.1" cy="686.2" r="2.7" fill="#fff"/>
<circle cx="510.9" cy="686.2" r="2.7" fill="#fff"/>
<circle cx="513" cy="686.2" r="2.7" fill="#000"/>
<circle cx="515.5" cy="686.2" r="2.7" fill="#000"/>
<circle cx="517.5" cy="686.2" r="2.7" fill="#fff"/>
<circle cx="518.5" cy="686.2" r="2.7" fill="#000"/>
<circle cx="523" cy="686.2" r="2.7" fill="#fff"/>
<circle cx="523.2" cy="686.2" r="2.7" fill="#000"/>
<circle cx="524.9" cy="686.2" r="2.7" fill="#fff"/>
<circle cx="528.8" cy="686.2" r="2.7" fill="#000"/>
<circle cx="530.4" cy="686.2" r="2.7" fill="#000"/>
<circle cx="535.5" cy="686.2" r="2.7" fill="#fff"/>
<circle cx="539.8" cy="686.2" r="2.7" fill="#fff"/>
<circle cx="541.3" cy="686.2" r="2.7" fill="#000"/>
<circle cx="544.8" cy="686.2" r="2.7" fill="#000"/>
<circle cx="547.6" cy="686.2" r="2.7" fill="#000"/>
<circle cx="550.5" cy="686.2" r="2.7" fill="#000"/>
<circle cx="557.5" cy="686.2" r="2.7" fill="#fff"/>
<circle cx="560" cy="686.2" r="2.7" fill="#fff"/>
<circle cx="565" cy="686.2" r="2.7" fill="#fff"/>
<circle cx="570" cy="686.2" r="2.7" fill="#000"/>
<circle cx="575.6" cy="686.2" r="2.7" fill="#fff"/>
<circle cx="578.8" cy="686.2" r="2.7" fill="#fff"/>
<circle cx="585" cy="686.2" r="2.7" fill="#000"/>
<circle cx="587.5" cy="686.2" r="2.7" fill="#000"/>
<circle cx="589.4" cy="686.2" r="2.7" fill="#000"/>
<circle cx="593.1" cy="686.2" r="2.7" fill="#fff"/>
<circle cx="595" cy="686.2" r="2.7" fill="#fff"/>
<circle cx="598.1" cy="686.2" r="2.7" fill="#fff"/>
<circle cx="603.8" cy="686.2" r="2.7" fill="#000"/>
<circle cx="605.6" cy="686.2" r="2.7" fill="#000"/>
<circle cx="608.4" cy="686.2" r="2.7" fill="#000"/>
<circle cx="619.4" cy="686.2" r="2.7" fill="#fff"/>
<circle cx="620.8" cy="686.2" r="2.7" fill="#fff"/>
<circle cx="623.4" cy="686.2" r="2.7" fill="#fff"/>
<circle cx="635.6" cy="686.2" r="2.7" fill="#000"/>
<circle cx="636.9" cy="686.2" r="2.7" fill="#000"/>
<circle cx="638.1" cy="686.2" r="2.7" fill="#000"/>
<circle cx="648.8" cy="686.2" r="2.7" fill="#fff"/>
<circle cx="651.9" cy="686.2" r="2.7" fill="#fff"/>
<circle cx="655" cy="686.2" r="2.7" fill="#fff"/>
<circle cx="662.5" cy="686.2" r="2.7" fill="#000"/>
<circle cx="670" cy="686.2" r="2.7" fill="#000"/>
<circle cx="673.1" cy="686.2" r="2.7" fill="#000"/>
<circle cx="681.9" cy="686.2" r="2.7" fill="#fff"/>
<circle cx="684.4" cy="686.2" r="2.7" fill="#fff"/>
<circle cx="685.8" cy="686.2" r="2.7" fill="#fff"/>
<circle cx="695.6" cy="686.2" r="2.7" fill="#000"/>
<circle cx="697.5" cy="686.2" r="2.7" fill="#000"/>
<circle cx="700" cy="686.2" r="2.7" fill="#000"/>
<circle cx="707.5" cy="686.2" r="2.7" fill="#fff"/>
<circle cx="711.7" cy="686.2" r="2.7" fill="#fff"/>
<circle cx="714.4" cy="686.2" r="2.7" fill="#fff"/>
<circle cx="725.6" cy="686.2" r="2.7" fill="#000"/>
<circle cx="728.1" cy="686.2" r="2.7" fill="#000"/>
<circle cx="737.5" cy="686.2" r="2.7" fill="#fff"/>
<circle cx="740" cy="686.2" r="2.7" fill="#fff"/>
<circle cx="741.9" cy="686.2" r="2.7" fill="#fff"/>
<circle cx="747.5" cy="686.2" r="2.7" fill="#000"/>
<circle cx="755.8" cy="686.2" r="2.7" fill="#fff"/>
<circle cx="756.9" cy="686.2" r="2.7" fill="#fff"/>
<circle cx="760" cy="686.2" r="2.7" fill="#fff"/>
<circle cx="765.6" cy="686.2" r="2.7" fill="#000"/>
<circle cx="769.4" cy="686.2" r="2.7" fill="#000"/>
<circle cx="771.9" cy="686.2" r="2.7" fill="#000"/>
<circle cx="773.1" cy="686.2" r="2.7" fill="#000"/>
<circle cx="777.5" cy="686.2" r="2.7" fill="#000"/>
<circle cx="784.4" cy="686.2" r="2.7" fill="#fff"/>
<circle cx="786.9" cy="686.2" r="2.7" fill="#fff"/>
<circle cx="790" cy="686.2" r="2.7" fill="#fff"/>
<circle cx="792.5" cy="686.2" r="2.7" fill="#000"/>
<circle cx="801.9" cy="686.2" r="2.7" fill="#000"/>
<circle cx="811.9" cy="686.2" r="2.7" fill="#fff"/>
<circle cx="814.4" cy="686.2" r="2.7" fill="#fff"/>
<circle cx="832.7" cy="686.2" r="2.7" fill="#000"/>
<circle cx="834.6" cy="686.2" r="2.7" fill="#000"/>
<circle cx="844.4" cy="686.2" r="2.7" fill="#fff"/>
<circle cx="846.3" cy="686.2" r="2.7" fill="#fff"/>
<circle cx="853.8" cy="686.2" r="2.7" fill="#000"/>
<circle cx="857.5" cy="686.2" r="2.7" fill="#000"/>
<circle cx="869.4" cy="686.2" r="2.7" fill="#fff"/>
<circle cx="873.4" cy="686.2" r="2.7" fill="#fff"/>
<circle cx="876.3" cy="686.2" r="2.7" fill="#fff"/>
<circle cx="885" cy="686.2" r="2.7" fill="#000"/>
<circle cx="890.4" cy="686.2" r="2.7" fill="#000"/>
<circle cx="892.8" cy="686.2" r="2.7" fill="#000"/>
<circle cx="896.9" cy="686.2" r="2.7" fill="#fff"/>
<circle cx="900" cy="686.2" r="2.7" fill="#fff"/>
<circle cx="908.1" cy="686.2" r="2.7" fill="#000"/>
<circle cx="910.6" cy="686.2" r="2.7" fill="#000"/>
<circle cx="918.1" cy="686.2" r="2.7" fill="#fff"/>
<circle cx="920" cy="686.2" r="2.7" fill="#fff"/>
<circle cx="922.3" cy="686.2" r="2.7" fill="#fff"/>
<circle cx="927.5" cy="686.2" r="2.7" fill="#000"/>
<circle cx="929.5" cy="686.2" r="2.7" fill="#fff"/>
<circle cx="931.3" cy="686.2" r="2.7" fill="#000"/>
<circle cx="932.5" cy="686.2" r="2.7" fill="#fff"/>
<circle cx="934.8" cy="686.2" r="2.7" fill="#000"/>
<circle cx="936.9" cy="686.2" r="2.7" fill="#fff"/>
<circle cx="939.4" cy="686.2" r="2.7" fill="#000"/>
<circle cx="941.9" cy="686.2" r="2.7" fill="#fff"/>
<circle cx="951.9" cy="686.2" r="2.7" fill="#000"/>
<circle cx="956.9" cy="686.2" r="2.7" fill="#fff"/>
<circle cx="960" cy="686.2" r="2.7" fill="#000"/>
<circle cx="963.4" cy="686.2" r="2.7" fill="#fff"/>
<circle cx="966.3" cy="686.2" r="2.7" fill="#000"/>
<circle cx="968.8" cy="686.2" r="2.7" fill="#000"/>
<circle cx="973.8" cy="686.2" r="2.7" fill="#fff"/>
<circle cx="977.5" cy="686.2" r="2.7" fill="#000"/>
<circle cx="986.3" cy="686.2" r="2.7" fill="#fff"/>
<circle cx="992.5" cy="686.2" r="2.7" fill="#fff"/>
<circle cx="994.4" cy="686.2" r="2.7" fill="#fff"/>
<circle cx="1005.6" cy="686.2" r="2.7" fill="#000"/>
<circle cx="1008.3" cy="686.2" r="2.7" fill="#000"/>
<circle cx="1012.3" cy="686.2" r="2.7" fill="#000"/>
<circle cx="1015" cy="686.2" r="2.7" fill="#000"/>
<circle cx="1022.5" cy="686.2" r="2.7" fill="#fff"/>
<circle cx="1025.6" cy="686.2" r="2.7" fill="#fff"/>
<circle cx="1038.8" cy="686.2" r="2.7" fill="#000"/>
<circle cx="1043.8" cy="686.2" r="2.7" fill="#000"/>
<circle cx="1055.6" cy="686.2" r="2.7" fill="#fff"/>
<circle cx="1060" cy="686.2" r="2.7" fill="#fff"/>
<circle cx="1065.6" cy="686.2" r="2.7" fill="#fff"/>
<circle cx="1071.3" cy="686.2" r="2.7" fill="#000"/>
<circle cx="1075.6" cy="686.2" r="2.7" fill="#000"/>
<circle cx="1080" cy="686.2" r="2.7" fill="#fff"/>
<circle cx="1082.5" cy="686.2" r="2.7" fill="#fff"/>
<circle cx="1087.5" cy="686.2" r="2.7" fill="#000"/>
<circle cx="1090.6" cy="686.2" r="2.7" fill="#000"/>
<circle cx="1095" cy="686.2" r="2.7" fill="#fff"/>
<circle cx="1098.1" cy="686.2" r="2.7" fill="#fff"/>
<circle cx="1101.9" cy="686.2" r="2.7" fill="#fff"/>
<circle cx="1106.3" cy="686.2" r="2.7" fill="#000"/>
<circle cx="1110" cy="686.2" r="2.7" fill="#fff"/>
<circle cx="1119.4" cy="686.2" r="2.7" fill="#000"/>
<circle cx="1122.2" cy="686.2" r="2.7" fill="#000"/>
<circle cx="1126" cy="686.2" r="2.7" fill="#000"/>
<circle cx="1133.2" cy="686.2" r="2.7" fill="#fff"/>
<circle cx="1134.6" cy="686.2" r="2.7" fill="#fff"/>
<circle cx="1138.5" cy="686.2" r="2.7" fill="#fff"/>
<circle cx="1143.8" cy="686.2" r="2.7" fill="#000"/>
<circle cx="1147.5" cy="686.2" r="2.7" fill="#000"/>
<circle cx="1156.3" cy="686.2" r="2.7" fill="#fff"/>
<circle cx="1158.1" cy="686.2" r="2.7" fill="#fff"/>
<circle cx="1168.1" cy="686.2" r="2.7" fill="#000"/>
<circle cx="1172.2" cy="686.2" r="2.7" fill="#000"/>
<circle cx="1181.3" cy="686.2" r="2.7" fill="#fff"/>
<circle cx="1186.3" cy="686.2" r="2.7" fill="#000"/>
<circle cx="1189.4" cy="686.2" r="2.7" fill="#000"/>
<circle cx="1195" cy="686.2" r="2.7" fill="#fff"/>
<circle cx="1196.3" cy="686.2" r="2.7" fill="#fff"/>
<circle cx="1200.6" cy="686.2" r="2.7" fill="#000"/>
<circle cx="1203.1" cy="686.2" r="2.7" fill="#fff"/>
<circle cx="1205.4" cy="686.2" r="2.7" fill="#000"/>
</g>
<g font-size="13.6" text-anchor="middle" fill="#000" stroke="#000" stroke-width="0.35">
<text transform="translate(142.6 714.6) rotate(-90)">G150</text>
<text transform="translate(152.3 657.5) rotate(-90)">G135</text>
<text transform="translate(158.8 714.6) rotate(-90)">G180</text>
<text transform="translate(170.1 657.5) rotate(-90)">H2O2</text>
<text transform="translate(179.5 714.6) rotate(-90)">Paraq</text>
<text transform="translate(187.6 657.5) rotate(-90)">Oxctl</text>
<text transform="translate(197.8 714.6) rotate(-90)">LBGexp</text>
<text transform="translate(209.6 657.5) rotate(-90)">dia15</text>
<text transform="translate(225.9 714.6) rotate(-90)">Diami</text>
<text transform="translate(237.8 657.5) rotate(-90)">dia5</text>
<text transform="translate(254 714.6) rotate(-90)">C90</text>
<text transform="translate(266.5 657.5) rotate(-90)">C30</text>
<text transform="translate(280.3 714.6) rotate(-90)">Cold</text>
<text transform="translate(295.3 657.5) rotate(-90)">LPh</text>
<text transform="translate(303.4 714.6) rotate(-90)">HPh</text>
<text transform="translate(314 657.5) rotate(-90)">aero</text>
<text transform="translate(330.9 714.6) rotate(-90)">nit</text>
<text transform="translate(342.1 657.5) rotate(-90)">ferm</text>
<text transform="translate(358.8 714.6) rotate(-90)">GM+150</text>
<text transform="translate(367.1 657.5) rotate(-90)">M9−tran</text>
<text transform="translate(374.9 714.6) rotate(-90)">MG+150</text>
<text transform="translate(379.5 657.5) rotate(-90)">MG+120</text>
<text transform="translate(395 657.5) rotate(-90)">MG+60</text>
<text transform="translate(399.5 657.5) rotate(-90)">MG+60</text>
<text transform="translate(404 657.5) rotate(-90)">MG+45</text>
<text transform="translate(409 657.5) rotate(-90)">MG+25</text>
<text transform="translate(412.5 657.5) rotate(-90)">MG+15</text>
<text transform="translate(416 657.5) rotate(-90)">MG+10</text>
<text transform="translate(419.5 657.5) rotate(-90)">MG+5</text>
<text transform="translate(423 657.5) rotate(-90)">MG+t5</text>
<text transform="translate(426.5 657.5) rotate(-90)">MG+t3</text>
<text transform="translate(430 657.5) rotate(-90)">MG+t2</text>
<text transform="translate(433.5 657.5) rotate(-90)">MG+t1</text>
<text transform="translate(441 657.5) rotate(-90)">MG−0.2</text>
<text transform="translate(446 657.5) rotate(-90)">MG−0.2</text>
<text transform="translate(454 657.5) rotate(-90)">Fru</text>
<text transform="translate(463 657.5) rotate(-90)">GM−0.2</text>
<text transform="translate(468 657.5) rotate(-90)">GM−0.2</text>
<text transform="translate(475 657.5) rotate(-90)">GM+5</text>
<text transform="translate(478.5 657.5) rotate(-90)">GM+10</text>
<text transform="translate(482 657.5) rotate(-90)">GM+15</text>
<text transform="translate(485.5 657.5) rotate(-90)">GM+25</text>
<text transform="translate(489 657.5) rotate(-90)">GM+45</text>
<text transform="translate(492.5 657.5) rotate(-90)">GM+60</text>
<text transform="translate(496 657.5) rotate(-90)">GM+90</text>
<text transform="translate(499.5 657.5) rotate(-90)">GM+15</text>
<text transform="translate(503 657.5) rotate(-90)">GM+25</text>
<text transform="translate(506.5 657.5) rotate(-90)">GM+45</text>
<text transform="translate(511 657.5) rotate(-90)">GM+150</text>
<text transform="translate(521 657.5) rotate(-90)">GM+60</text>
<text transform="translate(525 657.5) rotate(-90)">GM+45</text>
<text transform="translate(529 657.5) rotate(-90)">GM+90</text>
<text transform="translate(540 657.5) rotate(-90)">M9−exp</text>
<text transform="translate(391.3 714.6) rotate(-90)">MG+90</text>
<text transform="translate(395 714.6) rotate(-90)">MG+45</text>
<text transform="translate(398.5 714.6) rotate(-90)">MG+25</text>
<text transform="translate(402 714.6) rotate(-90)">MG+15</text>
<text transform="translate(405.5 714.6) rotate(-90)">MG+10</text>
<text transform="translate(409 714.6) rotate(-90)">MG+60</text>
<text transform="translate(412.5 714.6) rotate(-90)">MG+25</text>
<text transform="translate(416 714.6) rotate(-90)">MG+15</text>
<text transform="translate(419.5 714.6) rotate(-90)">MG+10</text>
<text transform="translate(423 714.6) rotate(-90)">MG+25</text>
<text transform="translate(426.5 714.6) rotate(-90)">MG+45</text>
<text transform="translate(430 714.6) rotate(-90)">MG+60</text>
<text transform="translate(436 714.6) rotate(-90)">MG−0.1</text>
<text transform="translate(440.5 714.6) rotate(-90)">MG−0.1</text>
<text transform="translate(444.5 714.6) rotate(-90)">MG−0.2</text>
<text transform="translate(450.5 714.6) rotate(-90)">N/K</text>
<text transform="translate(459 714.6) rotate(-90)">Glucon</text>
<text transform="translate(464 714.6) rotate(-90)">GM−0.1</text>
<text transform="translate(469 714.6) rotate(-90)">GM−0.2</text>
<text transform="translate(479 714.6) rotate(-90)">GM+5</text>
<text transform="translate(481.5 714.6) rotate(-90)">GM+10</text>
<text transform="translate(484 714.6) rotate(-90)">GM+15</text>
<text transform="translate(486.5 714.6) rotate(-90)">GM+25</text>
<text transform="translate(489 714.6) rotate(-90)">GM+45</text>
<text transform="translate(491.5 714.6) rotate(-90)">GM+60</text>
<text transform="translate(494 714.6) rotate(-90)">GM+25</text>
<text transform="translate(496.5 714.6) rotate(-90)">GM+15</text>
<text transform="translate(504 714.6) rotate(-90)">GM+120</text>
<text transform="translate(509 714.6) rotate(-90)">GM+120</text>
<text transform="translate(519 714.6) rotate(-90)">GM+90</text>
<text transform="translate(523 714.6) rotate(-90)">GM+25</text>
<text transform="translate(527 714.6) rotate(-90)">GM+45</text>
<text transform="translate(531 714.6) rotate(-90)">GM+5</text>
<text transform="translate(548.8 714.6) rotate(-90)">M/G</text>
<text transform="translate(561.5 657.5) rotate(-90)">Mal</text>
<text transform="translate(574 714.6) rotate(-90)">Fru</text>
<text transform="translate(579.6 657.5) rotate(-90)">Glu</text>
<text transform="translate(589 714.6) rotate(-90)">SMM</text>
<text transform="translate(597.1 657.5) rotate(-90)">BMM</text>
<text transform="translate(607.8 714.6) rotate(-90)">Heat</text>
<text transform="translate(623.4 657.5) rotate(-90)">Etha</text>
<text transform="translate(639.6 714.6) rotate(-90)">Salt</text>
<text transform="translate(652.8 657.5) rotate(-90)">Gly</text>
<text transform="translate(666.5 714.6) rotate(-90)">HiTm</text>
<text transform="translate(685.9 657.5) rotate(-90)">HiOs</text>
<text transform="translate(699.6 714.6) rotate(-90)">S1</text>
<text transform="translate(711.5 657.5) rotate(-90)">S2</text>
<text transform="translate(729.6 714.6) rotate(-90)">S3</text>
<text transform="translate(741.5 657.5) rotate(-90)">S4</text>
<text transform="translate(751.5 714.6) rotate(-90)">S3</text>
<text transform="translate(759.8 657.5) rotate(-90)">S5</text>
<text transform="translate(769.6 714.6) rotate(-90)">S6</text>
<text transform="translate(788.4 657.5) rotate(-90)">S7</text>
<text transform="translate(796.5 714.6) rotate(-90)">S8</text>
<text transform="translate(815.9 657.5) rotate(-90)">S6</text>
<text transform="translate(836.7 714.6) rotate(-90)">BT</text>
<text transform="translate(848.4 657.5) rotate(-90)">B36</text>
<text transform="translate(857.8 714.6) rotate(-90)">B60</text>
<text transform="translate(873.4 657.5) rotate(-90)">LoTm</text>
<text transform="translate(889 714.6) rotate(-90)">Pyr</text>
<text transform="translate(900.9 657.5) rotate(-90)">G/S</text>
<text transform="translate(912.1 714.6) rotate(-90)">Glucon</text>
<text transform="translate(922.1 657.5) rotate(-90)">SMMPr</text>
<text transform="translate(933.5 657.5) rotate(-90)">T−4.40H</text>
<text transform="translate(936.6 657.5) rotate(-90)">T−3.40H</text>
<text transform="translate(939.8 657.5) rotate(-90)">T−2.40H</text>
<text transform="translate(942.9 657.5) rotate(-90)">T−1.40H</text>
<text transform="translate(946 657.5) rotate(-90)">T0.0H</text>
<text transform="translate(960.5 657.5) rotate(-90)">T1.0H</text>
<text transform="translate(965.1 657.5) rotate(-90)">T2.0H</text>
<text transform="translate(969.8 657.5) rotate(-90)">T3.0H</text>
<text transform="translate(974.4 657.5) rotate(-90)">T4.0H</text>
<text transform="translate(979 657.5) rotate(-90)">T5.0H</text>
<text transform="translate(930.5 714.6) rotate(-90)">T−5.40H</text>
<text transform="translate(933.9 714.6) rotate(-90)">T−4.40H</text>
<text transform="translate(937.2 714.6) rotate(-90)">T−3.40H</text>
<text transform="translate(940.6 714.6) rotate(-90)">T−2.40H</text>
<text transform="translate(944 714.6) rotate(-90)">T−1.10H</text>
<text transform="translate(955.5 714.6) rotate(-90)">T0.30H</text>
<text transform="translate(960.8 714.6) rotate(-90)">T1.30H</text>
<text transform="translate(966.1 714.6) rotate(-90)">T2.30H</text>
<text transform="translate(971.4 714.6) rotate(-90)">T3.30H</text>
<text transform="translate(976.7 714.6) rotate(-90)">T4.30H</text>
<text transform="translate(982 714.6) rotate(-90)">T5.0H</text>
<text transform="translate(990.3 657.5) rotate(-90)">M9−stat</text>
<text transform="translate(1009.6 714.6) rotate(-90)">BC</text>
<text transform="translate(1026.5 657.5) rotate(-90)">Sw</text>
<text transform="translate(1042.8 714.6) rotate(-90)">LPhT</text>
<text transform="translate(1059.6 657.5) rotate(-90)">LBGstat</text>
<text transform="translate(1075.3 714.6) rotate(-90)">LBGtran</text>
<text transform="translate(1084 657.5) rotate(-90)">M0t45</text>
<text transform="translate(1091.5 714.6) rotate(-90)">M40t45</text>
<text transform="translate(1099 657.5) rotate(-90)">Lbtran</text>
<text transform="translate(1110.3 714.6) rotate(-90)">Mt0</text>
<text transform="translate(1114 657.5) rotate(-90)">M40t45</text>
<text transform="translate(1123.4 714.6) rotate(-90)">M40t90</text>
<text transform="translate(1137.2 657.5) rotate(-90)">M0t90</text>
<text transform="translate(1147.8 714.6) rotate(-90)">Lbstat</text>
<text transform="translate(1160.3 657.5) rotate(-90)">BI</text>
<text transform="translate(1172.1 714.6) rotate(-90)">S0</text>
<text transform="translate(1185.3 657.5) rotate(-90)">M0t45</text>
<text transform="translate(1190.3 714.6) rotate(-90)">dia0</text>
<text transform="translate(1199 657.5) rotate(-90)">Lbexp</text>
<text transform="translate(1204.6 714.6) rotate(-90)">Mt0</text>
<text transform="translate(1207.1 657.5) rotate(-90)">Lbexp</text>
<text transform="translate(1209.4 714.6) rotate(-90)">Mt0</text>
</g>
</svg>
</body></html>
